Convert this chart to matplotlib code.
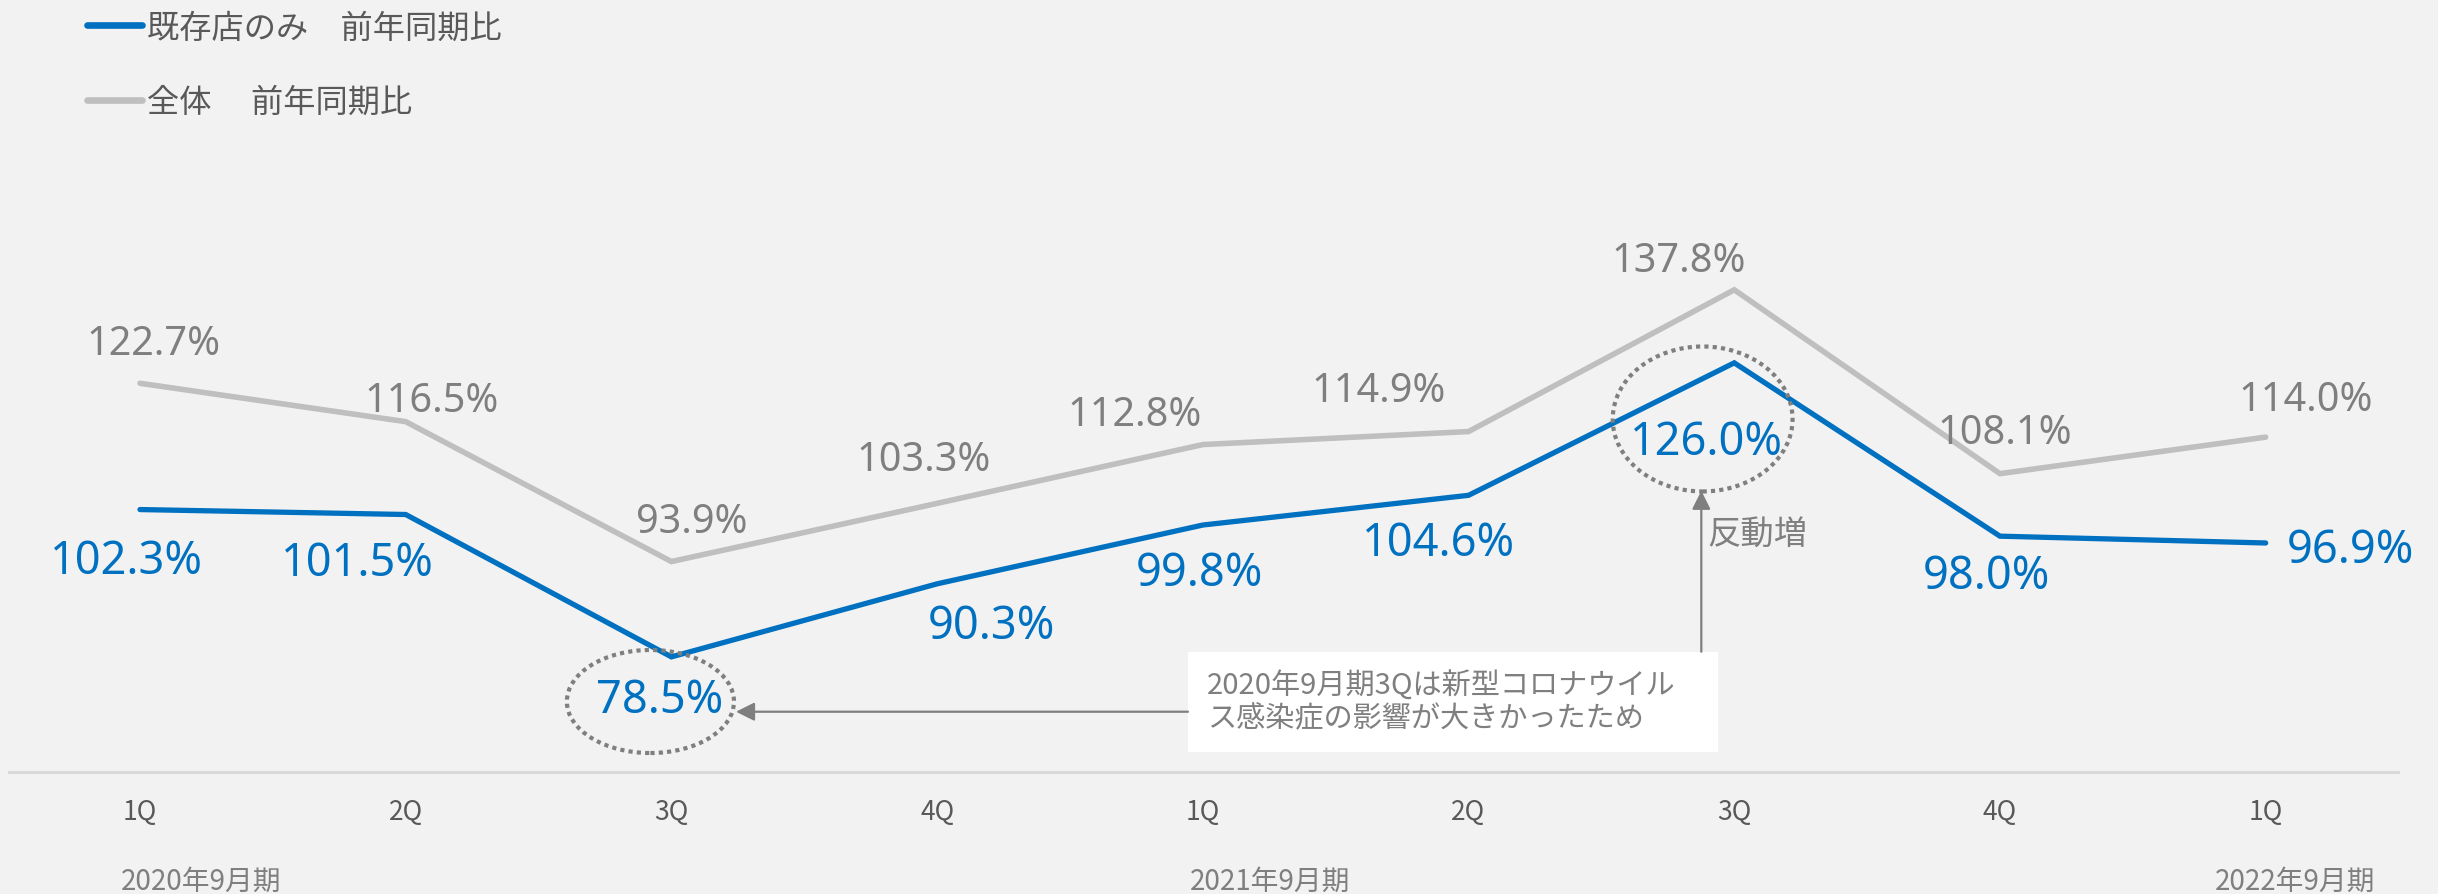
import matplotlib

matplotlib.use("Agg")
import matplotlib.pyplot as plt
from matplotlib.lines import Line2D
from matplotlib.patches import Ellipse, Rectangle

plt.rcParams["font.family"] = ["Noto Sans CJK JP", "DejaVu Sans"]

# data
QUARTERS = ["1Q", "2Q", "3Q", "4Q", "1Q", "2Q", "3Q", "4Q", "1Q"]
FISCAL_YEARS = ["2020年9月期", "2021年9月期", "2022年9月期"]
EXISTING_YOY = [102.3, 101.5, 78.5, 90.3, 99.8, 104.6, 126.0, 98.0, 96.9]
TOTAL_YOY = [122.7, 116.5, 93.9, 103.3, 112.8, 114.9, 137.8, 108.1, 114.0]
EXISTING_LABEL = "既存店のみ　前年同期比"
TOTAL_LABEL = "全体　 前年同期比"
NOTE = "2020年9月期3Qは新型コロナウイル\nス感染症の影響が大きかったため"
REBOUND = "反動増"

BLUE = "#0070C0"
GRAY_LINE = "#BFBFBF"
GRAY_TEXT = "#7F7F7F"
DARK_TEXT = "#595959"
BG = "#F2F2F2"

# label placement, pixel offsets from each point (text baseline)
TOTAL_OFFSETS = [(14, 29), (26, 11), (20, 30), (-13, 33), (-68, 20),
                 (-90, 31), (-56, 19), (5, 31), (40, 27)]
EXISTING_OFFSETS = [(-14, -63), (-48, -60), (-12, -55), (54, -54), (-3, -60),
                    (-30, -60), (-28, -91), (-14, -52), (85, -19)]
YEAR_X = [-0.072, 3.95, 7.81]
# (point index, dx, dy, width, height) in data units
HIGHLIGHTS = [(2, -0.079, -7.21, 0.629, 16.64), (6, -0.119, -9.07, 0.677, 23.42)]

W, H = 2438, 895
fig = plt.figure(figsize=(W / 100, H / 100), dpi=100)
fig.patch.set_facecolor(BG)
ax = fig.add_axes([9 / W, 1 - 772.7 / H, (2398 - 9) / W, 772.7 / H])
ax.set_facecolor(BG)

x = list(range(len(QUARTERS)))
ax.plot(x, TOTAL_YOY, color=GRAY_LINE, lw=4, solid_joinstyle="miter",
        solid_capstyle="round", zorder=2)
ax.plot(x, EXISTING_YOY, color=BLUE, lw=3.8, solid_joinstyle="miter",
        solid_capstyle="round", zorder=2)
ax.set_xlim(-0.493, 8.498)
ax.set_ylim(59.95, 184.78)

ax.set_xticks(x, QUARTERS)
ax.set_yticks([])
ax.tick_params(axis="x", length=0, pad=19, labelsize=19, labelcolor=DARK_TEXT)
for side in ("top", "left", "right"):
    ax.spines[side].set_visible(False)
ax.spines["bottom"].set_color("#D9D9D9")
ax.spines["bottom"].set_linewidth(2.2)

for xp, label in zip(YEAR_X, FISCAL_YEARS):
    ax.annotate(label, xy=(xp, 0), xycoords=("data", "axes fraction"),
                xytext=(0, -117), textcoords="offset pixels", ha="left",
                va="baseline", fontsize=20, color=GRAY_TEXT, annotation_clip=False)

for xi, v, (dx, dy) in zip(x, TOTAL_YOY, TOTAL_OFFSETS):
    ax.annotate(f"{v:.1f}%", (xi, v), xytext=(dx, dy), textcoords="offset pixels",
                ha="center", va="baseline", fontsize=28.5, color=GRAY_TEXT,
                family="Noto Sans", zorder=5)
for xi, v, (dx, dy) in zip(x, EXISTING_YOY, EXISTING_OFFSETS):
    ax.annotate(f"{v:.1f}%", (xi, v), xytext=(dx, dy), textcoords="offset pixels",
                ha="center", va="baseline", fontsize=32.5, color=BLUE,
                family="Noto Sans", zorder=5)

for i, dx, dy, w, h in HIGHLIGHTS:
    ax.add_patch(Ellipse((x[i] + dx, EXISTING_YOY[i] + dy), w, h, fill=False,
                         ec=GRAY_TEXT, lw=3, ls=(0, (1, 1)), zorder=4))

# note box and arrows
ax.add_patch(Rectangle((3.944, 63.17), 1.994, 16.16, fc="white", ec="none", zorder=3))
ax.text(4.016, 71.15, NOTE, ha="left", va="center", fontsize=21, color=GRAY_TEXT,
        linespacing=1.1, zorder=4)
arrow = dict(arrowstyle="-|>", color=GRAY_TEXT, lw=1.6, mutation_scale=28,
             shrinkA=0, shrinkB=0)
ax.annotate("", xy=(2.243, 69.64), xytext=(3.944, 69.64), arrowprops=arrow, zorder=4)
ax.annotate("", xy=(5.876, 105.34), xytext=(5.876, 79.33), arrowprops=arrow, zorder=4)
ax.text(5.898, 96.72, REBOUND, ha="left", va="baseline", fontsize=24,
        color=GRAY_TEXT, zorder=4)

handles = [
    Line2D([], [], color=BLUE, lw=4.8, solid_capstyle="round", label=EXISTING_LABEL),
    Line2D([], [], color=GRAY_LINE, lw=4.8, solid_capstyle="round", label=TOTAL_LABEL),
]
fig.legend(handles=handles, loc="upper left", bbox_to_anchor=(87 / W, 1 - 12.6 / H),
           frameon=False, fontsize=23.2, labelcolor=DARK_TEXT, handlelength=1.71,
           handletextpad=0.155, labelspacing=1.31, borderpad=0, borderaxespad=0)

fig.savefig("out.png", dpi=100, facecolor=BG)
